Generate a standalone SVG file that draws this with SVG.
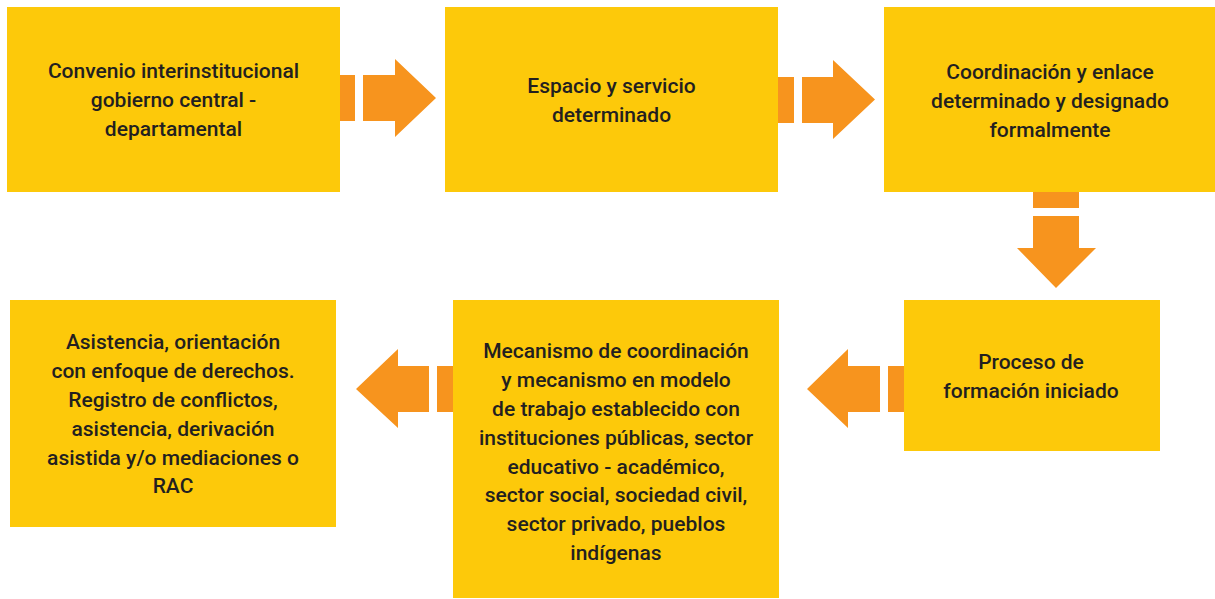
<svg xmlns="http://www.w3.org/2000/svg" width="1215" height="599" viewBox="0 0 1215 599">
<style>
.box{fill:#FDC90A}
.arr{fill:#F7941E}
text{font-family:Roboto,"Liberation Sans",sans-serif;font-size:21px;font-weight:500;fill:#231F20;text-anchor:middle}
</style>
<rect width="1215" height="599" fill="#FFFFFF"/>
<g id="connectors">
<g id="a1"><rect class="arr" x="339" y="75" width="16" height="46"/><polygon class="arr" points="363,75 395,75 395,59 436,98 395,137 395,121 363,121"/></g>
<g id="a2"><rect class="arr" x="778" y="77" width="16" height="46"/><polygon class="arr" points="802,77 833,77 833,60 875,99.5 833,139 833,123 802,123"/></g>
<g id="a3"><rect class="arr" x="1033" y="192" width="46" height="16"/><polygon class="arr" points="1033,216 1079,216 1079,248 1096,248 1056,288 1017,248 1033,248"/></g>
<g id="a4"><rect class="arr" x="888" y="366" width="16" height="46"/><polygon class="arr" points="880,366 848,366 848,349 807,389 848,428 848,412 880,412"/></g>
<g id="a5"><rect class="arr" x="437" y="366" width="16" height="46"/><polygon class="arr" points="429,366 398,366 398,349 356,389 398,428 398,412 429,412"/></g>
</g>
<g id="n1"><rect class="box" x="7" y="7" width="333" height="185"/>
<text x="173.5" y="78.3">Convenio interinstitucional</text>
<text x="173.5" y="107.1">gobierno central -</text>
<text x="173.5" y="135.9">departamental</text></g>
<g id="n2"><rect class="box" x="445" y="7" width="333" height="185"/>
<text x="611.5" y="93.3">Espacio y servicio</text>
<text x="611.5" y="122.1">determinado</text></g>
<g id="n3"><rect class="box" x="884" y="7" width="331" height="185"/>
<text x="1050" y="79.3">Coordinación y enlace</text>
<text x="1050" y="108.1">determinado y designado</text>
<text x="1050" y="136.9">formalmente</text></g>
<g id="n4"><rect class="box" x="904" y="300" width="256" height="151"/>
<text x="1031" y="369.3">Proceso de</text>
<text x="1031" y="398.1">formación iniciado</text></g>
<g id="n5"><rect class="box" x="453" y="300" width="326" height="298"/>
<text x="616" y="358.3">Mecanismo de coordinación</text>
<text x="616" y="387.1">y mecanismo en modelo</text>
<text x="616" y="415.9">de trabajo establecido con</text>
<text x="616" y="444.7">instituciones públicas, sector</text>
<text x="616" y="473.5">educativo - académico,</text>
<text x="616" y="502.3">sector social, sociedad civil,</text>
<text x="616" y="531.1">sector privado, pueblos</text>
<text x="616" y="559.9">indígenas</text></g>
<g id="n6"><rect class="box" x="10" y="300" width="326" height="227"/>
<text x="173" y="349.3">Asistencia, orientación</text>
<text x="173" y="378.1">con enfoque de derechos.</text>
<text x="173" y="406.9">Registro de conflictos,</text>
<text x="173" y="435.7">asistencia, derivación</text>
<text x="173" y="464.5">asistida y/o mediaciones o</text>
<text x="173" y="493.3">RAC</text></g>
</svg>
